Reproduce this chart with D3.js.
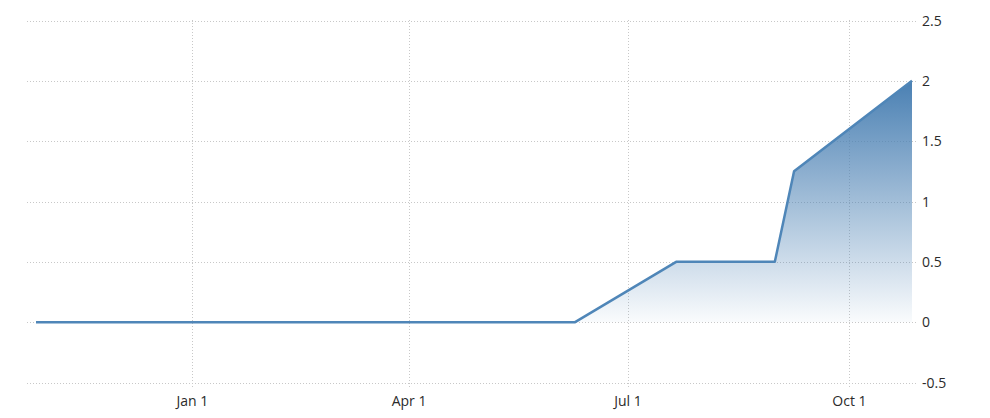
<!DOCTYPE html>
<html>
<head>
  <title>rate chart</title>
  <meta charset="utf-8" />
<script src="https://d3js.org/d3.v7.min.js"></script>
</head>
<style>
  body { margin: 0; background: #fff; }
  svg { display: block; }
  .grid line { stroke: #c8c8c8; stroke-dasharray: 1,2; stroke-width: 1; }
  text { font-family: "Open Sans", sans-serif; font-size: 14px; fill: #2b2b2b; }
</style>
<body>
<svg class="main" width="990" height="418"></svg>
<script>

// data
var dates = ["2021-10-28", "2021-11-30", "2021-12-16", "2022-01-31", "2022-02-03",
  "2022-03-10", "2022-04-14", "2022-05-31", "2022-06-09", "2022-07-21",
  "2022-08-31", "2022-09-08", "2022-10-27"]
var values = [0, 0, 0, 0, 0, 0, 0, 0, 0, 0.5, 0.5, 1.25, 2]
var yTicks = [-0.5, 0, 0.5, 1, 1.5, 2, 2.5]
var xTicks = ["2022-01-01", "2022-04-01", "2022-07-01", "2022-10-01"]

var parse = d3.timeParse("%Y-%m-%d")
var data = dates.map(function (d, i) { return {date: parse(d), value: values[i]} })

var svg = d3.select("svg.main")

var x = d3.scaleTime()
  .domain([parse("2021-10-28"), parse("2022-10-27")])
  .range([36, 912])

var y = d3.scaleLinear()
  .domain([-0.5, 2.5])
  .range([382.5, 20.5])

var grid = svg.append("g").attr("class", "grid")

grid.selectAll("line.h")
  .data(yTicks)
  .enter()
  .append("line")
  .attr("class", "h")
  .attr("x1", 27).attr("x2", 917)
  .attr("y1", function (d) { return Math.round(y(d)) + 0.5 })
  .attr("y2", function (d) { return Math.round(y(d)) + 0.5 })

grid.selectAll("line.v")
  .data(xTicks.map(parse))
  .enter()
  .append("line")
  .attr("class", "v")
  .attr("x1", function (d) { return Math.round(x(d)) + 0.5 })
  .attr("x2", function (d) { return Math.round(x(d)) + 0.5 })
  .attr("y1", 20).attr("y2", 388)

var grad = svg.append("defs").append("linearGradient")
  .attr("id", "fade")
  .attr("gradientUnits", "userSpaceOnUse")
  .attr("x1", 0).attr("x2", 0)
  .attr("y1", y(2)).attr("y2", y(0))
grad.append("stop").attr("offset", 0).attr("stop-color", "#4a80b3")
grad.append("stop").attr("offset", 1).attr("stop-color", "#4a80b3").attr("stop-opacity", 0.03)

var area = d3.area()
  .x(function (d) { return x(d.date) })
  .y0(y(0))
  .y1(function (d) { return y(d.value) })

var line = d3.line()
  .x(function (d) { return x(d.date) })
  .y(function (d) { return y(d.value) })

svg.append("path")
  .datum(data)
  .attr("d", area)
  .style("fill", "url(#fade)")

svg.append("path")
  .datum(data)
  .attr("d", line)
  .style("fill", "none")
  .style("stroke", "#4f86b8")
  .style("stroke-width", 2.5)
  .style("stroke-linejoin", "round")

svg.append("g")
  .selectAll("text")
  .data(yTicks)
  .enter()
  .append("text")
  .attr("x", 922)
  .attr("y", function (d) { return y(d) + 5 })
  .text(function (d) { return String(d) })

var fmt = d3.timeFormat("%b %-d")
svg.append("g")
  .selectAll("text")
  .data(xTicks.map(parse))
  .enter()
  .append("text")
  .attr("x", function (d) { return x(d) })
  .attr("y", 406)
  .attr("text-anchor", "middle")
  .text(function (d) { return fmt(d) })

</script>
</body>
</html>
